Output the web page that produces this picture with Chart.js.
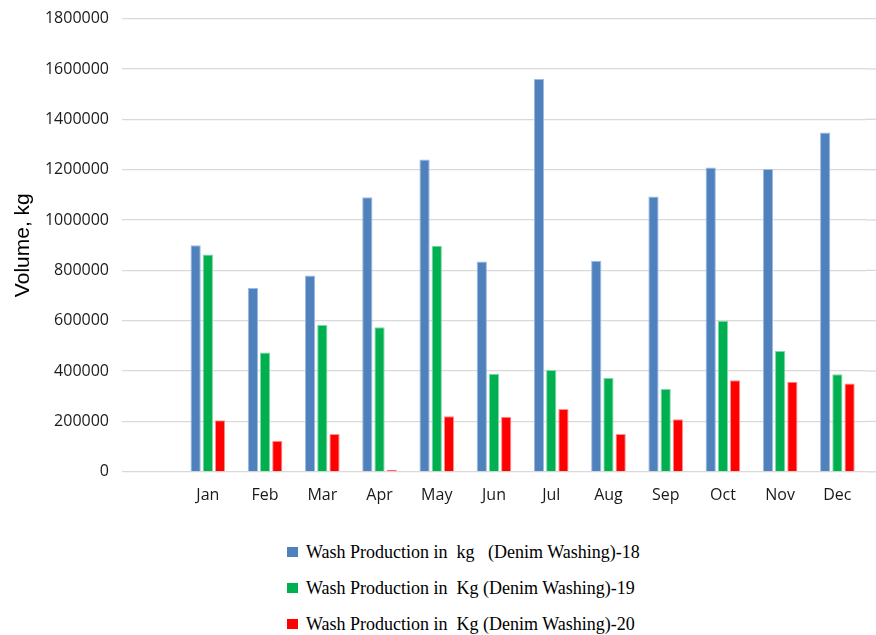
<!DOCTYPE html>
<html>
<head>
<meta charset="utf-8">
<script src="https://cdn.jsdelivr.net/npm/chart.js@4"></script>
<style>
  html, body { margin: 0; padding: 0; background: #ffffff; }
  #wrap { position: relative; width: 876px; height: 635px; overflow: hidden; }
  #box { position: absolute; left: 0; top: -4px; width: 876px; height: 524px; }
  #legend { position: absolute; left: 287px; top: 534px; font-family: "Liberation Serif", "Times New Roman", serif; font-size: 18px; color: #000; }
  .row { height: 36px; display: flex; align-items: center; white-space: pre; }
  .sw { width: 11px; height: 10px; margin-right: 8px; flex: none; }
</style>
</head>
<body>
<div id="wrap">
  <div id="box"><canvas id="c"></canvas></div>
  <div id="legend"></div>
</div>
<script>
// Monthly wash production volumes (kg)
const months = ['Jan', 'Feb', 'Mar', 'Apr', 'May', 'Jun', 'Jul', 'Aug', 'Sep', 'Oct', 'Nov', 'Dec'];
const seriesNames = [
  'Wash Production in  kg   (Denim Washing)-18',
  'Wash Production in  Kg (Denim Washing)-19',
  'Wash Production in  Kg (Denim Washing)-20'
];
const wash18 = [900000, 730000, 780000, 1090000, 1240000, 835000, 1560000, 838000, 1093000, 1209000, 1203000, 1348000];
const wash19 = [863000, 474000, 583000, 574000, 898000, 389000, 404000, 373000, 329000, 600000, 480000, 387000];
const wash20 = [205000, 123000, 150000, 8000, 221000, 219000, 249000, 150000, 209000, 364000, 358000, 351000];
const yTicks = [0, 200000, 400000, 600000, 800000, 1000000, 1200000, 1400000, 1600000, 1800000];

const colors = ['#4f81bd', '#00b050', '#ff0000'];
const edges = ['#9fbbe0', '#7fd8a8', '#ff9090'];

// an empty leading slot keeps the space before January
const labels = [''].concat(months);
const seriesData = [wash18, wash19, wash20];

const datasets = seriesData.map((vals, i) => ({
  label: seriesNames[i],
  data: [null].concat(vals),
  backgroundColor: colors[i],
  borderColor: edges[i],
  borderWidth: 1,
  barPercentage: 0.84,
  categoryPercentage: 0.64
}));

// horizontal gridlines run on to the right edge of the canvas
const gridRunout = {
  id: 'gridRunout',
  beforeDatasetsDraw(chart) {
    const { ctx, chartArea, scales } = chart;
    const y = scales.y;
    ctx.save();
    ctx.strokeStyle = '#d9d9d9';
    ctx.lineWidth = 1.3;
    y.ticks.forEach(t => {
      const py = y.getPixelForValue(t.value);
      ctx.beginPath();
      ctx.moveTo(chartArea.right, py);
      ctx.lineTo(chart.width, py);
      ctx.stroke();
    });
    ctx.restore();
  }
};

new Chart(document.getElementById('c'), {
  type: 'bar',
  data: { labels, datasets },
  plugins: [gridRunout],
  options: {
    responsive: true,
    maintainAspectRatio: false,
    animation: false,
    layout: { padding: { top: 14, bottom: 1, left: 7, right: 10 } },
    plugins: { legend: { display: false }, tooltip: { enabled: false } },
    scales: {
      x: {
        grid: { display: false, drawTicks: false },
        border: { display: false },
        ticks: { color: '#1a1a1a', padding: 14, font: { family: 'Open Sans', size: 16 } }
      },
      y: {
        min: 0,
        max: 1800000,
        afterBuildTicks(scale) { scale.ticks = yTicks.map(v => ({ value: v })); },
        afterFit(scale) { scale.width = 115; },
        grid: { color: '#d9d9d9', lineWidth: 1.3, drawTicks: false },
        border: { display: false },
        ticks: { color: '#1a1a1a', padding: 13, font: { family: 'Open Sans', size: 16 }, callback: v => String(v) },
        title: {
          display: true,
          text: 'Volume, kg',
          color: '#000',
          font: { family: 'Liberation Sans', size: 21 },
          padding: { top: 4, bottom: 8 }
        }
      }
    }
  }
});

// stacked legend below the plot
const legend = document.getElementById('legend');
seriesNames.forEach((name, i) => {
  const row = document.createElement('div');
  row.className = 'row';
  const sw = document.createElement('span');
  sw.className = 'sw';
  sw.style.background = colors[i];
  const tx = document.createElement('span');
  tx.textContent = name;
  row.appendChild(sw);
  row.appendChild(tx);
  legend.appendChild(row);
});
</script>
</body>
</html>
